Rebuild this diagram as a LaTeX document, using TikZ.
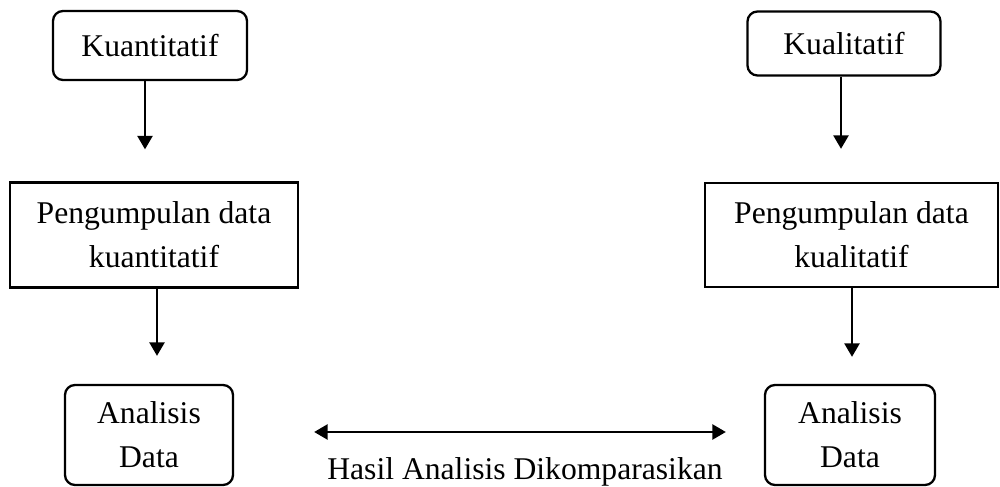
\documentclass[tikz,border=0pt]{standalone}
\usepackage{fontspec}
\setmainfont{Liberation Serif}
\usepackage{tikz}
\usetikzlibrary{arrows.meta}

\tikzset{
    kotak/.style={draw, line width=1.3pt, align=center, inner sep=0pt,
        font=\fontsize{18}{25}\selectfont},
    bulat/.style={kotak, rounded corners=0.2cm},
    panah/.style={-{Triangle[length=0.27cm,width=0.3cm]}, line width=1.4pt},
    duapanah/.style={{Triangle[length=0.27cm,width=0.3cm]}-{Triangle[length=0.27cm,width=0.3cm]}, line width=1.4pt}
}

\begin{document}
\begin{tikzpicture}
                \useasboundingbox (0,0) rectangle (20,-9.74);

                % kiri
                \node[bulat, minimum width=3.88cm, minimum height=1.38cm]
                    (kuan) at (3.0,-0.91) {Kuantitatif};
                \node[kotak, minimum width=5.76cm, minimum height=2.1cm]
                    (pkuan) at (3.08,-4.7) {Pengumpulan data\\kuantitatif};
                \node[bulat, minimum width=3.36cm, minimum height=2.0cm]
                    (akuan) at (2.98,-8.7) {Analisis\\Data};

                % kanan
                \node[bulat, minimum width=3.86cm, minimum height=1.28cm]
                    (kual) at (16.88,-0.87) {Kualitatif};
                \node[kotak, minimum width=5.86cm, minimum height=2.08cm]
                    (pkual) at (17.03,-4.7) {Pengumpulan data\\kualitatif};
                \node[bulat, minimum width=3.4cm, minimum height=2.0cm]
                    (akual) at (17.0,-8.7) {Analisis\\Data};

                \draw[panah, shorten >=0.64cm] ([xshift=-0.1cm]kuan.south)
                    -- ([xshift=-0.1cm]kuan.south |- pkuan.north);
                \draw[panah, shorten >=0.56cm] ([xshift=0.06cm]pkuan.south)
                    -- ([xshift=0.06cm]pkuan.south |- akuan.north);
                \draw[panah, shorten >=0.66cm] ([xshift=-0.06cm]kual.south)
                    -- ([xshift=-0.06cm]kual.south |- pkual.north);
                \draw[panah, shorten >=0.54cm] ([xshift=0.01cm]pkual.south)
                    -- ([xshift=0.01cm]pkual.south |- akual.north);

                \draw[duapanah, shorten <=1.6cm, shorten >=0.76cm]
                    ([yshift=0.06cm]akuan.east) -- ([yshift=0.06cm]akual.west)
                    node[midway, below=0.36cm, xshift=0.52cm,
                        font=\fontsize{18}{25}\selectfont] (hasil)
                    {Hasil Analisis Dikomparasikan};
            \end{tikzpicture}
\end{document}
